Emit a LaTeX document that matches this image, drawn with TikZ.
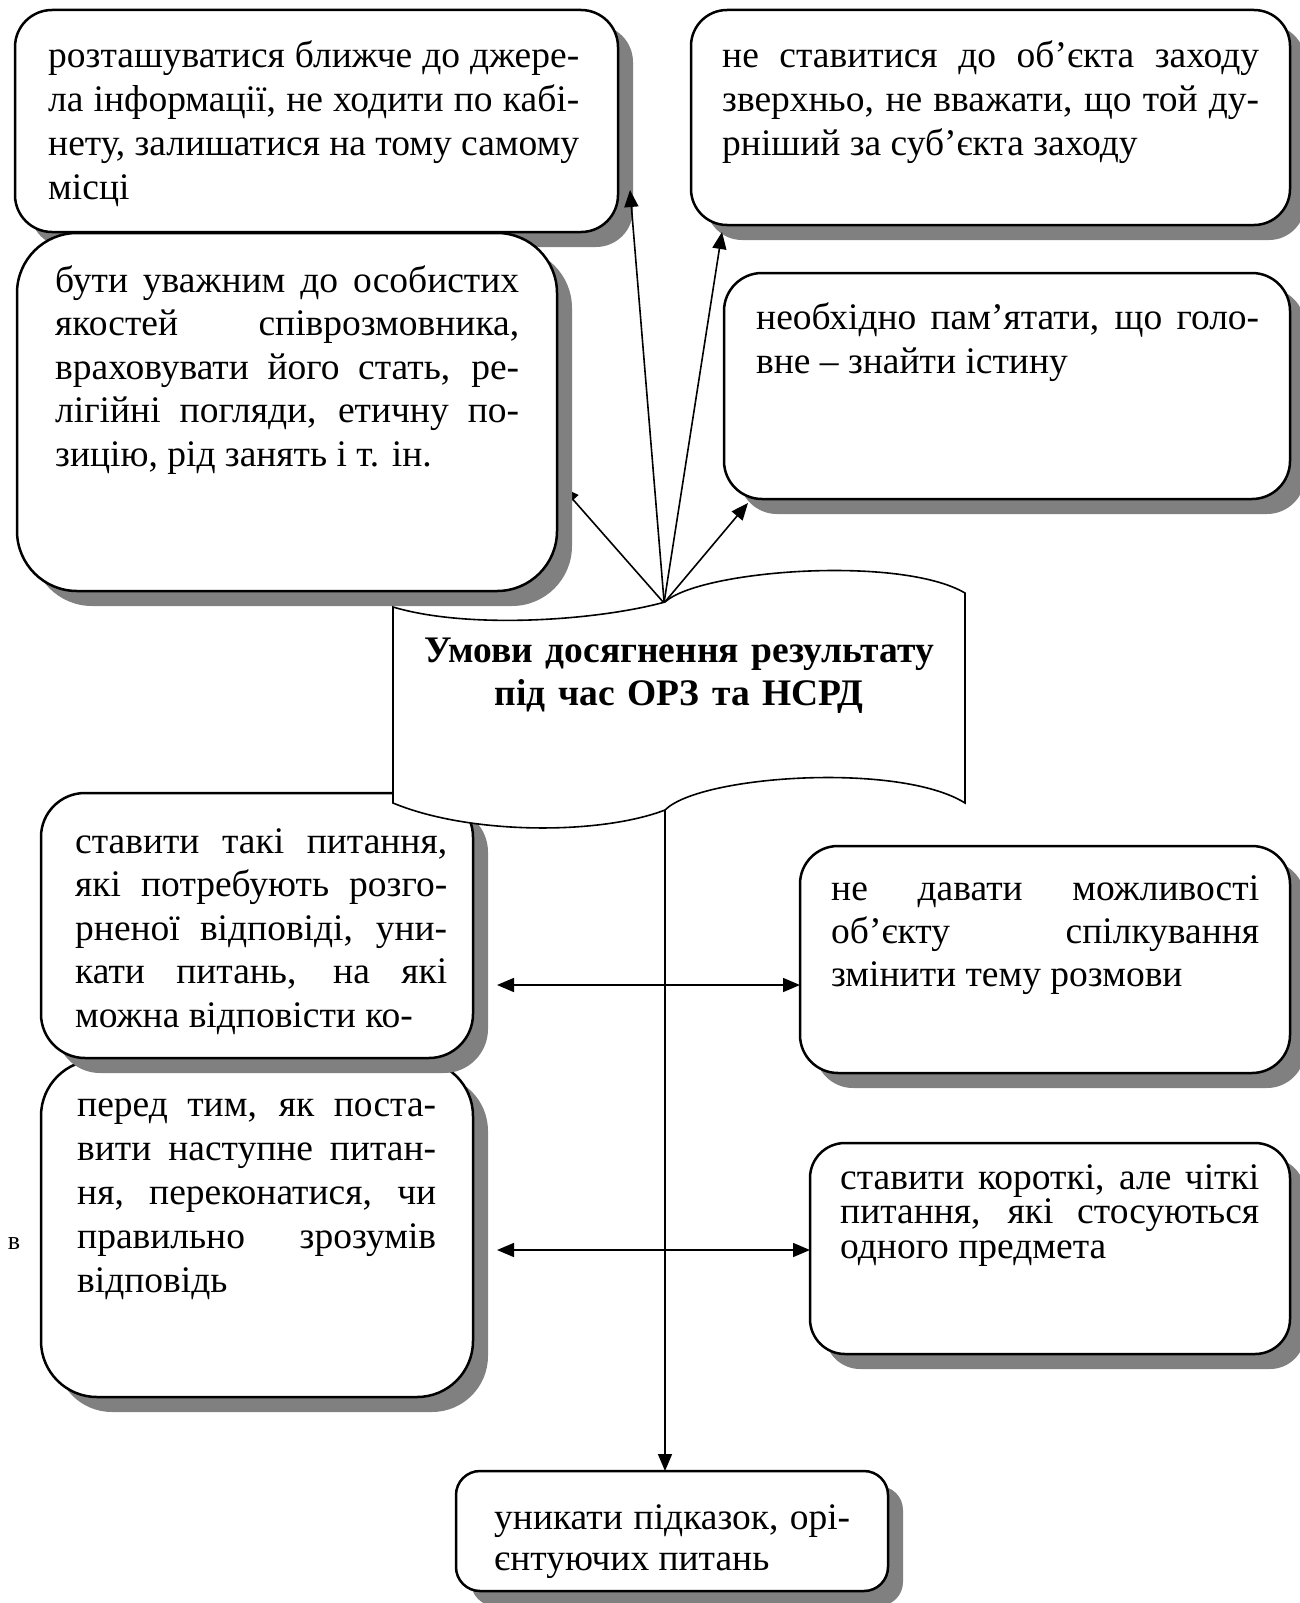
\documentclass[tikz,border=0pt]{standalone}
\usepackage{fontspec}
\setmainfont{Liberation Serif}
\usetikzlibrary{shadows,arrows.meta}

\begin{document}
\begin{tikzpicture}[x=1pt, y=-1pt, >={Triangle[length=17pt,width=14pt]},
    box/.style={draw, line width=2.5pt, fill=white, inner sep=0pt, outer sep=0pt,
        drop shadow={shadow xshift=15pt, shadow yshift=-15pt, fill=black!50, opacity=1}},
    txt/.style={anchor=base west, inner sep=0pt, align=justify, font=\fontsize{37.5}{44}\selectfont},
    link/.style={line width=1.6pt}]
    \useasboundingbox (0,0) rectangle (1299,1603);
    % upper boxes
    \node[box, minimum width=603pt, minimum height=222pt, rounded corners=37pt] (b1) at (316.5,121) {};
    \node[txt, text width=531pt] (t1) at (48,67) {розташуватися ближче до джере-\linebreak ла інформації, не ходити по кабі-\linebreak нету, залишатися на тому самому\linebreak місці};
    \node[box, minimum width=599pt, minimum height=215pt, rounded corners=36pt] (b2) at (990.5,117.5) {};
    \node[txt, text width=537pt] (t2) at (722,67) {не ставитися до об’єкта заходу\linebreak зверхньо, не вважати, що той ду-\linebreak рніший за суб’єкта заходу};
    \node[box, minimum width=566pt, minimum height=226pt, rounded corners=38pt] (b4) at (1007,386) {};
    \node[txt, text width=503pt] (t4) at (756,329) {необхідно пам’ятати, що голо-\linebreak вне – знайти істину};
    % from the title upwards
    \coordinate (j) at (664,603);
    \coordinate (j1) at (665,613);
    \coordinate (e1) at (630,190);
    \coordinate (e2) at (722,232);
    \coordinate (e3) at (562,487);
    \coordinate (e4) at (748,503);
    \draw[link,->] (j) -- (e3);
    \node[box, minimum width=540pt, minimum height=358pt, rounded corners=60pt] (b3) at (287,412) {};
    \node[txt, text width=464pt, font=\fontsize{37.5}{43.5}\selectfont] (t3) at (55,292) {бути уважним до особистих\linebreak якостей співрозмовника,\linebreak враховувати його стать, ре-\linebreak лігійні погляди, етичну по-\linebreak зицію, рід занять і т. ін.};
    \draw[link,->] (j1) -- (e1);
    \draw[link,->] (j) -- (e2);
    \draw[link,->] (j) -- (e4);
    % lower left boxes
    \node[box, minimum width=432pt, minimum height=337pt, rounded corners=56pt] (b7) at (257,1228.5) {};
    \node[txt, text width=359pt] (t7) at (77,1116) {перед тим, як поста-\linebreak вити наступне питан-\linebreak ня, переконатися, чи\linebreak правильно зрозумів\linebreak відповідь};
    \node[box, minimum width=432pt, minimum height=265pt, rounded corners=44pt] (b5) at (257,925.5) {};
    \node[txt, text width=372pt, font=\fontsize{37.5}{43.5}\selectfont] (t5) at (75,853) {\parfillskip=0pt ставити такі питання,\linebreak які потребують розго-\linebreak рненої відповіді, уни-\linebreak кати питань, на які\linebreak можна відповісти ко-};
    % title
    \draw[line width=1.6pt, fill=white] (393,607) .. controls (470,630) and (600,620) .. (665,602)
        .. controls (700,570) and (900,555) .. (965,593) -- (965,803)
        .. controls (900,762) and (700,775) .. (665,810)
        .. controls (600,835) and (470,835) .. (393,803) -- cycle;
    \node[anchor=base, inner sep=0pt, text width=560pt, align=center, font=\bfseries\fontsize{37.5}{43}\selectfont] (title) at (679,662) {Умови досягнення результату\\під час ОРЗ та НСРД};
    \coordinate (jb) at (665,810);
    % lower right boxes
    \node[box, minimum width=490pt, minimum height=227pt, rounded corners=38pt] (b6) at (1045,959.5) {};
    \node[txt, text width=428pt, font=\fontsize{37.5}{43}\selectfont] (t6) at (831,900) {не давати можливості\linebreak об’єкту спілкування\linebreak змінити тему розмови};
    \node[box, minimum width=480pt, minimum height=211pt, rounded corners=35pt] (b8) at (1050,1248.5) {};
    \node[txt, text width=419pt, font=\fontsize{37.5}{34.5}\selectfont] (t8) at (840,1189) {ставити короткі, але чіткі\linebreak питання, які стосуються\linebreak одного предмета};
    \node[box, minimum width=432pt, minimum height=120pt, rounded corners=24pt] (b9) at (672,1531) {};
    \node[txt, text width=356pt, font=\fontsize{37.5}{41}\selectfont] (t9) at (494,1529) {уникати підказок, орі-\linebreak єнтуючих питань};
    \node[font=\fontsize{26}{30}\selectfont, inner sep=0pt] (mark) at (14,1244) {в};
    % flows
    \draw[link,->] (jb) -- (jb |- b9.north);
    \coordinate (h1) at (497,985);
    \coordinate (h2) at (497,1250);
    \draw[link,<->] (h1) -- (h1 -| b6.west);
    \draw[link,<->] (h2) -- (h2 -| b8.west);
\end{tikzpicture}
\end{document}
